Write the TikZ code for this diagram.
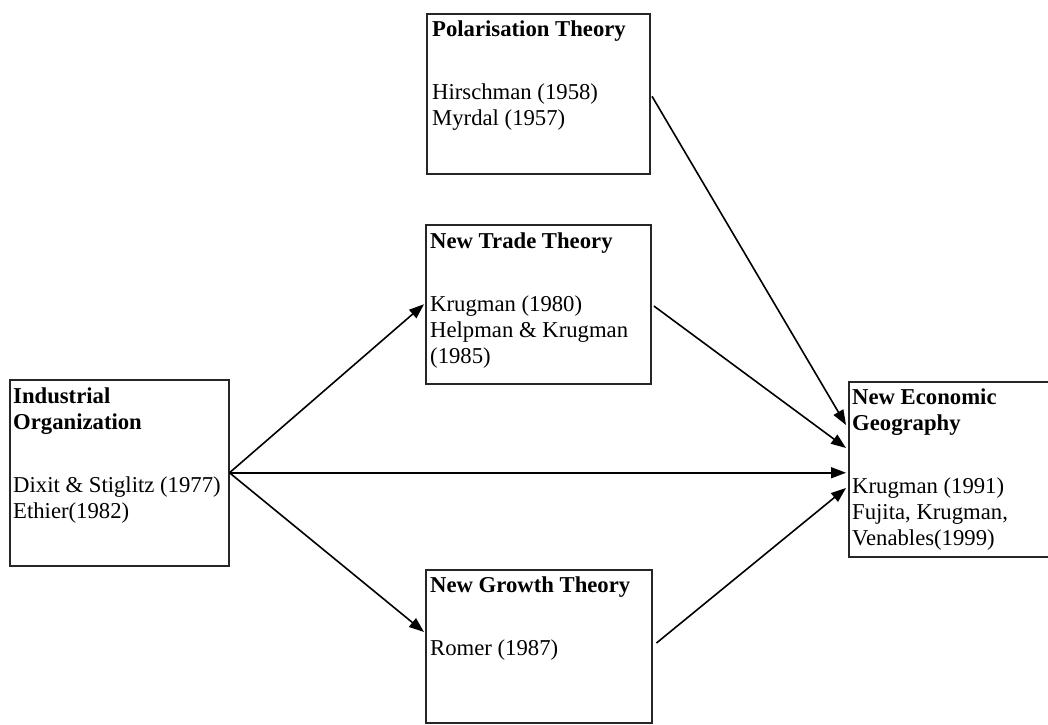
\documentclass[tikz,border=0pt]{standalone}
\usepackage{fontspec}
\setmainfont{Liberation Serif}
\usetikzlibrary{arrows.meta,calc}
\begin{document}
\begin{tikzpicture}[x=1pt,y=-1pt,
  box/.style={draw=black!85,line width=1.5pt,anchor=north west,inner sep=0pt},
  txt/.style={anchor=base west,inner sep=0pt,font=\fontsize{22.7}{26}\selectfont},
  conn/.style={line width=1.6pt,-{Triangle[length=15pt,width=11pt]}},
]
\useasboundingbox (0,0) rectangle (1048,724);
% boxes
\node[box,minimum width=223pt,minimum height=160pt] (pol) at (426,13) {};
\node[box,minimum width=225pt,minimum height=159pt] (nt) at (425,224) {};
\node[box,minimum width=219pt,minimum height=186pt] (io) at (9,379) {};
\node[box,minimum width=226pt,minimum height=153pt] (ng) at (425,569) {};
\node[box,minimum width=206pt,minimum height=175pt] (neg) at (848,381) {};
% texts
\node[txt] (polt) at (432,36) {\begin{minipage}[t]{215pt}\textbf{Polarisation Theory}\\[37pt]Hirschman (1958)\\Myrdal (1957)\end{minipage}};
\node[txt] (ntt) at (430,248) {\begin{minipage}[t]{215pt}\textbf{New Trade Theory}\\[37pt]Krugman (1980)\\Helpman \& Krugman\\(1985)\end{minipage}};
\node[txt] (iot) at (13,403) {\begin{minipage}[t]{215pt}\textbf{Industrial}\\\textbf{Organization}\\[37pt]Dixit \& Stiglitz (1977)\\Ethier(1982)\end{minipage}};
\node[txt] (ngt) at (430,592) {\begin{minipage}[t]{215pt}\textbf{New Growth Theory}\\[37pt]Romer (1987)\end{minipage}};
\node[txt] (negt) at (852,404) {\begin{minipage}[t]{195pt}\textbf{New Economic}\\\textbf{Geography}\\[37pt]Krugman (1991)\\Fujita, Krugman,\\Venables(1999)\end{minipage}};
% connectors
\coordinate (e1) at ($(neg.north west)+(-2,44)$);
\coordinate (e2) at ($(neg.north west)+(-2,67)$);
\coordinate (e3) at ($(neg.north west)+(-2,90)$);
\coordinate (e4) at ($(neg.north west)+(-2,107)$);
\coordinate (gw) at ($(ng.north west)+(-1,63)$);
\draw[conn] (io.east) -- ($(nt.west)+(-1,0)$);
\draw[conn] (io.east) -- (gw);
\draw[conn] (io.east) -- (io.east -| e3);
\draw[conn,shorten <=3pt] (pol.east) -- (e1);
\draw[conn,shorten <=3pt] (nt.east) -- (e2);
\draw[conn,shorten <=5pt] (ng.east) -- (e4);
\end{tikzpicture}
\end{document}
